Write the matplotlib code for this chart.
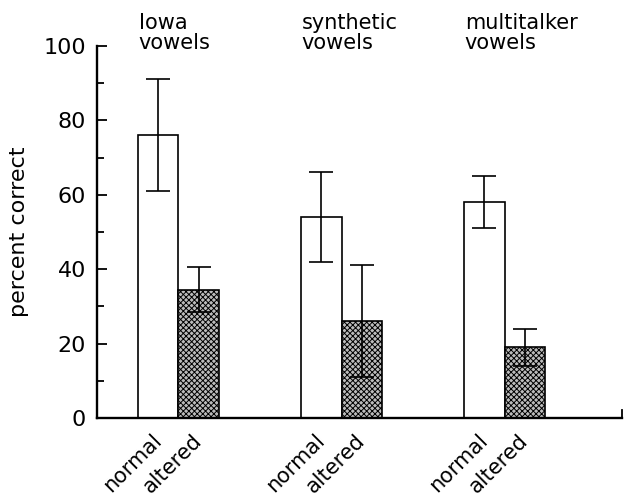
import matplotlib
matplotlib.use("Agg")
import matplotlib.pyplot as plt
import matplotlib.transforms as mtransforms
import numpy as np

# dados
grupos = ["Iowa\nvowels", "synthetic\nvowels", "multitalker\nvowels"]
condicoes = ["normal", "altered"]
normal = [76, 54, 58]
normal_lo = [61, 42, 51]
normal_hi = [91, 66, 65]
altered = [34.5, 26, 19]
altered_lo = [28.5, 11, 14]
altered_hi = [40.5, 41, 24]

plt.rcParams['font.family'] = ['DejaVu Sans']
plt.rcParams['hatch.linewidth'] = 0.7

fig = plt.figure(figsize=(6.24, 4.96), dpi=100)
ax = fig.add_axes([0.1554, 0.1573, 0.8414, 0.75])

centros = np.arange(len(grupos)) * 4.0
x_norm = centros - 0.5
x_alt = centros + 0.5

err_n = [np.array(normal) - np.array(normal_lo), np.array(normal_hi) - np.array(normal)]
err_a = [np.array(altered) - np.array(altered_lo), np.array(altered_hi) - np.array(altered)]

ax.bar(x_norm, normal, width=1.0, color='white', edgecolor='black', linewidth=1.2,
       yerr=err_n, error_kw=dict(ecolor='black', elinewidth=1.2, capsize=8.5, capthick=1.2))
ax.bar(x_alt, altered, width=1.0, color='#bcbcbc', edgecolor='black', linewidth=1.2,
       hatch='xxxxxx',
       yerr=err_a, error_kw=dict(ecolor='black', elinewidth=1.2, capsize=8.5, capthick=1.2))

ax.set_xlim(-2.0, 10.88)
ax.set_ylim(0, 100)

for s in ['top', 'right']:
    ax.spines[s].set_visible(False)
for s in ['left', 'bottom']:
    ax.spines[s].set_linewidth(1.7)

ax.set_yticks(np.arange(0, 101, 20))
ax.set_yticks(np.arange(10, 100, 20), minor=True)
ax.tick_params(axis='y', which='major', direction='in', length=7, width=1.3, labelsize=16, pad=8)
ax.tick_params(axis='y', which='minor', direction='in', length=5, width=1.3)

posicoes = np.ravel(np.column_stack([x_norm, x_alt]))
ax.set_xticks(posicoes)
ax.set_xticklabels(condicoes * len(grupos), rotation=45, ha='right', va='top',
                   rotation_mode='anchor', fontsize=15)
ax.tick_params(axis='x', length=0, pad=9)
# desloca um pouco os rótulos para a esquerda
desloc = mtransforms.ScaledTranslation(-5 / 72, 0, fig.dpi_scale_trans)
for lbl in ax.get_xticklabels():
    lbl.set_transform(lbl.get_transform() + desloc)

ax.set_ylabel('percent correct', fontsize=16, labelpad=10)

# pequeno traço no fim do eixo x
ax.plot([1, 1], [0, 0.022], color='black', lw=1.3, transform=ax.transAxes, clip_on=False)

for c, g in zip(centros, grupos):
    ax.text(c - 0.98, 98.0, g, ha='left', va='bottom', fontsize=15,
            linespacing=1.05, clip_on=False)

fig.savefig("out.png", dpi=100)
